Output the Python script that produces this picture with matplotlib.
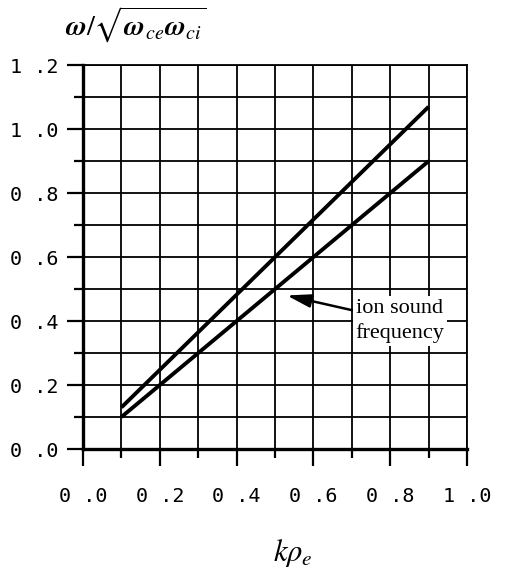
import numpy as np
import matplotlib.pyplot as plt
from matplotlib.ticker import MultipleLocator, FixedLocator

plt.rcParams['mathtext.fontset'] = 'stix'

# data
k_rho = [0.1, 0.9]
omega_upper = [0.13, 1.07]
omega_ion_sound = [0.10, 0.90]

x_ticks = [0.0, 0.2, 0.4, 0.6, 0.8, 1.0]
x_labels = ["0 .0", "0 .2", "0 .4", "0 .6", "0 .8", "1 .0"]
y_ticks = [0.0, 0.2, 0.4, 0.6, 0.8, 1.0, 1.2]
y_labels = ["0 .0", "0 .2", "0 .4", "0 .6", "0 .8", "1 .0", "1 .2"]

fig = plt.figure(figsize=(5.06, 5.79), dpi=100)
ax = fig.add_axes([0.164, 0.2245, 0.759, 0.663])

ax.plot(k_rho, omega_upper, color="black", lw=2.8, solid_capstyle="butt", zorder=3)
ax.plot(k_rho, omega_ion_sound, color="black", lw=2.8, solid_capstyle="butt", zorder=3)

ax.set_xlim(0, 1.0)
ax.set_ylim(0, 1.2)

ax.xaxis.set_major_locator(FixedLocator(x_ticks))
ax.yaxis.set_major_locator(FixedLocator(y_ticks))
ax.xaxis.set_minor_locator(MultipleLocator(0.1))
ax.yaxis.set_minor_locator(MultipleLocator(0.1))
ax.set_xticklabels(x_labels, family="DejaVu Sans Mono", fontsize=14.5)
ax.set_yticklabels(y_labels, family="DejaVu Sans Mono", fontsize=14.5)

ax.grid(True, which="both", color="black", lw=1.3, zorder=1)
ax.set_axisbelow(True)

ax.tick_params(axis="x", which="major", direction="out", length=12, width=1.6, pad=15)
ax.tick_params(axis="x", which="minor", direction="out", length=6.5, width=1.6)
ax.tick_params(axis="y", which="major", direction="out", length=11.5, width=1.6, pad=6)
ax.tick_params(axis="y", which="minor", direction="out", length=6.5, width=1.6)

for side in ["left", "bottom"]:
    ax.spines[side].set_linewidth(2.4)
for side in ["top", "right"]:
    ax.spines[side].set_linewidth(1.3)

ax.annotate("ion sound\nfrequency", xy=(0.531, 0.48), xytext=(0.71, 0.40),
            fontsize=16, family="Liberation Serif", va="center", ha="left",
            linespacing=1.4,
            bbox=dict(boxstyle="square,pad=0.12", fc="white", ec="none"),
            arrowprops=dict(arrowstyle="-|>,head_length=0.9,head_width=0.25",
                            color="black", lw=1.8, shrinkA=0, shrinkB=0),
            zorder=4)

fig.text(0.128, 0.957, r"$\boldsymbol{\omega}/\sqrt{\boldsymbol{\omega}_{ce}\boldsymbol{\omega}_{ci}}$",
         fontsize=20.5, ha="left", va="center")
fig.text(0.579, 0.045, r"$k\rho_e$", fontsize=22, ha="center", va="center")

plt.savefig("out.png", dpi=100)
